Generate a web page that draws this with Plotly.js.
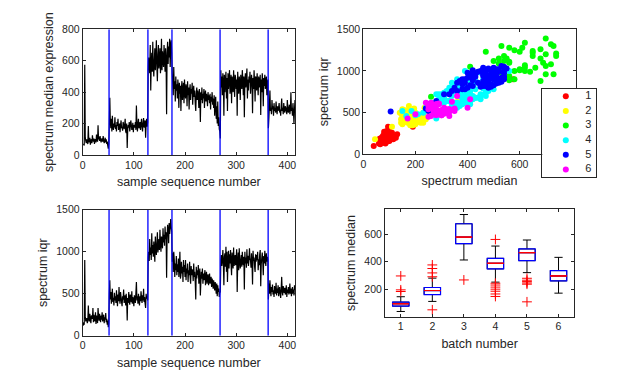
<!DOCTYPE html>
<html>
<head>
<meta charset="utf-8">
<script src="https://cdn.plot.ly/plotly-3.0.1.min.js"></script>
<style>
  html, body { margin: 0; padding: 0; background: #fff; }
  #graph { width: 636px; height: 382px; }
</style>
</head>
<body>
<div id="graph"></div>
<script>
//*****Data
// spectrum median per sample, one array per batch
var med1 = [65, 70, 60, 575, 110, 90, 75, 100, 85, 70,
  185, 80, 95, 110, 65, 90, 100, 75, 125, 95,
  85, 105, 70, 100, 90, 80, 130, 95, 85, 190,
  100, 115, 90, 120, 95, 80, 105, 100, 85, 120,
  95, 75, 90, 110, 80, 100, 70, 85, 60, 40, 75];
var med2 = [190, 365, 210, 170, 230, 150, 250, 180, 160, 200,
  175, 240, 165, 190, 150, 210, 185, 230, 160, 175,
  200, 145, 190, 220, 170, 180, 155, 210, 195, 165,
  185, 230, 150, 140, 200, 45, 160, 190, 175, 210,
  150, 180, 220, 195, 160, 170, 205, 145, 190, 185,
  175, 210, 160, 315, 190, 150, 200, 230, 170, 185,
  210, 160, 195, 230, 180, 150, 205, 235, 175, 190,
  220, 110, 200, 230, 180, 210];
var med3 = [540, 620, 560, 520, 700, 410, 580, 650, 530, 720,
  560, 500, 600, 680, 540, 620, 730, 560, 470, 640,
  700, 550, 600, 680, 520, 580, 740, 540, 660, 610,
  560, 700, 620, 530, 680, 600, 260, 650, 720, 580,
  690, 620, 740, 560, 700, 730, 650];
var med4 = [520, 450, 380, 560, 420, 470, 340, 500, 410, 450,
  360, 480, 420, 300, 460, 390, 440, 280, 430, 470,
  350, 410, 460, 330, 480, 400, 360, 450, 420, 310,
  470, 380, 430, 290, 410, 450, 350, 420, 390, 460,
  320, 400, 440, 370, 410, 330, 280, 390, 430, 350,
  410, 380, 300, 420, 370, 210, 400, 350, 430, 330,
  390, 360, 420, 300, 380, 410, 340, 390, 360, 310,
  400, 350, 380, 330, 390, 290, 370, 340, 400, 320,
  360, 300, 380, 250, 330, 370, 230, 310, 200, 340,
  185, 240, 165, 150];
var med5 = [105, 540, 430, 500, 380, 520, 460, 250, 510, 400,
  470, 530, 360, 490, 280, 520, 420, 480, 540, 390,
  460, 510, 330, 500, 470, 400, 540, 450, 370, 510,
  490, 420, 480, 250, 530, 440, 390, 500, 470, 350,
  510, 460, 420, 540, 480, 380, 500, 240, 470, 520,
  430, 490, 550, 360, 480, 410, 500, 460, 530, 390,
  450, 510, 470, 265, 490, 420, 540, 460, 340, 500,
  480, 410, 520, 450, 380, 500, 470, 430, 510, 255,
  480, 400, 520, 460, 310, 490, 440, 510, 420, 470,
  500, 380, 460, 480];
var med6 = [170, 240, 320, 410, 280, 300, 260, 350, 290, 310,
  250, 330, 280, 300, 270, 340, 290, 260, 310, 280,
  300, 330, 270, 290, 250, 310, 360, 280, 300, 260,
  330, 290, 270, 310, 300, 280, 260, 350, 290, 270,
  300, 320, 260, 290, 400, 280, 300, 250, 330, 270,
  200, 290, 350];

// spectrum iqr per sample
var iqr1 = [120, 160, 130, 900, 230, 170, 190, 210, 150, 180,
  360, 200, 170, 260, 190, 150, 240, 220, 200, 330,
  160, 250, 190, 170, 280, 140, 240, 210, 150, 330,
  230, 180, 260, 200, 160, 240, 190, 280, 170, 210,
  250, 150, 220, 190, 270, 160, 200, 130, 180, 100, 150];
var iqr2 = [480, 660, 430, 520, 380, 470, 560, 400, 450, 360,
  510, 420, 470, 390, 540, 430, 350, 490, 410, 580,
  440, 380, 520, 460, 400, 350, 470, 430, 550, 390,
  420, 480, 360, 500, 410, 180, 450, 390, 520, 430,
  370, 490, 440, 400, 530, 380, 460, 420, 350, 480,
  440, 390, 510, 640, 420, 470, 380, 500, 430, 360,
  470, 410, 530, 450, 390, 480, 420, 560, 400, 460,
  380, 330, 500, 440, 470, 420];
var iqr3 = [930, 1000, 890, 1150, 960, 1050, 900, 1220, 980, 1080,
  940, 1120, 1010, 880, 1180, 1040, 960, 1100, 1230, 990,
  1060, 1150, 1020, 1260, 1090, 1000, 1180, 1120, 1040, 1280,
  1110, 1200, 1070, 1300, 1150, 1230, 690, 1180, 1320, 1250,
  1100, 1340, 1210, 1280, 1390, 1300, 1240];
var iqr4 = [880, 980, 760, 1000, 900, 700, 860, 780, 950, 720,
  850, 760, 920, 700, 820, 1000, 680, 720, 880, 740,
  820, 640, 900, 760, 840, 700, 900, 660, 800, 740,
  860, 640, 780, 720, 880, 700, 620, 830, 720, 790,
  760, 650, 860, 700, 760, 640, 430, 820, 680, 780,
  720, 840, 620, 700, 800, 480, 640, 760, 680, 800,
  620, 740, 660, 720, 780, 600, 700, 760, 620, 690,
  730, 600, 680, 740, 620, 660, 700, 580, 680, 640,
  560, 660, 600, 540, 640, 580, 500, 620, 470, 600,
  520, 560, 460, 520];
var iqr5 = [515, 900, 960, 830, 900, 1020, 850, 600, 940, 980,
  820, 1060, 760, 1000, 640, 880, 1010, 800, 970, 860,
  1020, 850, 720, 990, 880, 800, 1050, 830, 880, 960,
  840, 930, 1030, 520, 870, 990, 780, 1040, 900, 800,
  890, 960, 820, 1000, 870, 840, 940, 550, 1000, 860,
  930, 810, 1030, 860, 950, 830, 900, 1040, 920, 900,
  810, 980, 870, 610, 1010, 890, 930, 820, 760, 970,
  880, 960, 900, 1000, 780, 910, 840, 970, 1020, 590,
  850, 920, 990, 880, 720, 950, 860, 1010, 900, 830,
  980, 880, 940, 900];
var iqr6 = [430, 620, 500, 660, 540, 470, 580, 520, 610, 490,
  540, 460, 590, 520, 500, 630, 480, 560, 510, 600,
  470, 540, 580, 500, 450, 560, 700, 520, 480, 590,
  540, 510, 570, 490, 530, 600, 460, 550, 510, 580,
  490, 540, 620, 500, 560, 470, 530, 580, 510, 550,
  480, 600, 540];

// batch boundaries (blue lines) in sample number
var batchEdges = [51.5, 127.5, 174.5, 268.5, 362.5];

var batchNames = ['1', '2', '3', '4', '5', '6'];
var batchColors = ['#ff0000', '#ffff00', '#00ff00', '#00ffff', '#0000ff', '#ff00ff'];

// box plot stats per batch
var boxX = [1, 2, 3, 4, 5, 6];
var boxQ1 = [77, 161, 530, 347, 407, 260];
var boxMed = [94, 190, 578, 388, 465, 296];
var boxQ3 = [106, 212, 675, 424, 492, 335];
var boxLo = [38, 111, 412, 251, 320, 171];
var boxHi = [145, 280, 742, 513, 557, 431];
var outX = [1, 1, 1, 2, 2, 2, 2, 2, 3, 4, 4, 4, 4, 4, 4, 4, 4, 5, 5, 5, 5, 5, 5];
var outY = [296, 195, 183, 376, 350, 318, 290, 50, 267, 561, 243, 230, 215, 200, 185, 165, 147, 279, 265, 255, 245, 236, 108];
//***** End of data

var medByBatch = [med1, med2, med3, med4, med5, med6];
var iqrByBatch = [iqr1, iqr2, iqr3, iqr4, iqr5, iqr6];
var medAll = [].concat.apply([], medByBatch);
var iqrAll = [].concat.apply([], iqrByBatch);
var sampleNo = medAll.map(function (v, i) { return i + 1; });

var ink = '#262626';
var font = 'Liberation Sans, Arial, sans-serif';

function edgeLines(top) {
  var xs = [], ys = [];
  batchEdges.forEach(function (b) { xs.push(b, b, null); ys.push(0, top, null); });
  return { x: xs, y: ys };
}

var data = [];

// top-left: median series
data.push({ x: sampleNo, y: medAll, type: 'scatter', mode: 'lines', xaxis: 'x', yaxis: 'y',
  line: { color: '#000', width: 1.2, simplify: false }, showlegend: false });
var e1 = edgeLines(800);
data.push({ x: e1.x, y: e1.y, type: 'scatter', mode: 'lines', xaxis: 'x', yaxis: 'y',
  line: { color: '#0000ff', width: 1.3 }, showlegend: false });

// top-right: scatter median vs iqr
for (var k = 0; k < 6; k++) {
  data.push({ x: medByBatch[k], y: iqrByBatch[k], type: 'scatter', mode: 'markers',
    xaxis: 'x2', yaxis: 'y2', name: batchNames[k], showlegend: false,
    marker: { color: batchColors[k], size: 6 } });
}

// legend box for the scatter (own small subplot, drawn over the scatter)
var legendKeyX = 0.44, legendLabelX = 0.86;
data.push({ x: boxX.map(function () { return legendKeyX; }), y: boxX, type: 'scatter', mode: 'markers',
  xaxis: 'x5', yaxis: 'y5', showlegend: false, cliponaxis: false,
  marker: { color: batchColors, size: 6 } });
data.push({ x: boxX.map(function () { return legendLabelX; }), y: boxX, type: 'scatter', mode: 'text',
  text: batchNames, textposition: 'middle center', xaxis: 'x5', yaxis: 'y5', showlegend: false,
  cliponaxis: false, textfont: { family: font, size: 11, color: ink } });

// bottom-left: iqr series
data.push({ x: sampleNo, y: iqrAll, type: 'scatter', mode: 'lines', xaxis: 'x3', yaxis: 'y3',
  line: { color: '#000', width: 1.2, simplify: false }, showlegend: false });
var e3 = edgeLines(1500);
data.push({ x: e3.x, y: e3.y, type: 'scatter', mode: 'lines', xaxis: 'x3', yaxis: 'y3',
  line: { color: '#0000ff', width: 1.3 }, showlegend: false });

// bottom-right: box plot (black whiskers, blue box, red median)
var boxBase = { type: 'box', x: boxX, xaxis: 'x4', yaxis: 'y4', width: 0.52,
  boxpoints: false, showlegend: false, fillcolor: 'rgba(0,0,0,0)' };
data.push(Object.assign({}, boxBase, { q1: boxQ1, median: boxMed, q3: boxQ3,
  lowerfence: boxLo, upperfence: boxHi, whiskerwidth: 0.5, line: { color: '#000', width: 1 } }));
data.push(Object.assign({}, boxBase, { q1: boxQ1, median: boxMed, q3: boxQ3,
  lowerfence: boxQ1, upperfence: boxQ3, whiskerwidth: 0, line: { color: '#0000ff', width: 1.2 } }));
data.push(Object.assign({}, boxBase, { q1: boxMed, median: boxMed, q3: boxMed,
  lowerfence: boxMed, upperfence: boxMed, whiskerwidth: 0, line: { color: '#ff0000', width: 1 } }));
data.push({ x: outX, y: outY, type: 'scatter', mode: 'markers', xaxis: 'x4', yaxis: 'y4',
  marker: { symbol: 'cross-thin-open', size: 7, color: '#ff0000', line: { color: '#ff0000', width: 1 } },
  showlegend: false });

var axis_layout = {
  showline: true, mirror: 'ticks', linecolor: ink, linewidth: 1,
  ticks: 'inside', ticklen: 3, tickcolor: ink, tickwidth: 1,
  showgrid: false, zeroline: false, automargin: false,
  tickfont: { family: font, size: 10.5, color: ink }
};
function ax(extra) { return Object.assign({}, axis_layout, extra); }
function ttl(t, gap) { return { text: t, standoff: gap, font: { family: font, size: 12.5, color: ink } }; }

var W = 636, H = 382;
function dx(a, b) { return [a / W, b / W]; }
function dy(top, bot) { return [1 - bot / H, 1 - top / H]; }

var layout = {
  width: W, height: H,
  margin: { l: 0, r: 0, t: 0, b: 0 },
  paper_bgcolor: '#fff', plot_bgcolor: '#fff',
  font: { family: font, color: ink },
  boxmode: 'overlay',
  showlegend: false,
  hovermode: false,
  xaxis: ax({ domain: dx(82.7, 295), range: [0, 415], tickvals: [0, 100, 200, 300, 400],
    anchor: 'y', title: ttl('sample sequence number', 7) }),
  yaxis: ax({ domain: dy(29.3, 155), range: [0, 800], tickvals: [0, 200, 400, 600, 800],
    anchor: 'x', title: ttl('spectrum median expression', 5) }),
  xaxis2: ax({ domain: dx(363.3, 575.7), range: [0, 815], tickvals: [0, 200, 400, 600],
    anchor: 'y2', title: ttl('spectrum median', 7) }),
  yaxis2: ax({ domain: dy(29.3, 154.3), range: [0, 1500], tickvals: [0, 500, 1000, 1500],
    anchor: 'x2', title: ttl('spectrum iqr', 5) }),
  xaxis3: ax({ domain: dx(82.7, 295), range: [0, 415], tickvals: [0, 100, 200, 300, 400],
    anchor: 'y3', title: ttl('sample sequence number', 7) }),
  yaxis3: ax({ domain: dy(209.7, 335.7), range: [0, 1500], tickvals: [0, 500, 1000, 1500],
    anchor: 'x3', title: ttl('spectrum iqr', 5) }),
  xaxis4: ax({ domain: dx(385, 574.3), range: [0.5, 6.5], tickvals: boxX,
    anchor: 'y4', title: ttl('batch number', 7) }),
  yaxis4: ax({ domain: dy(209.3, 316.7), range: [0, 780], tickvals: [200, 400, 600],
    anchor: 'x4', title: ttl('spectrum median', 5) }),
  xaxis5: { domain: dx(542.3, 595.7), range: [0, 1], anchor: 'y5', showline: true, mirror: 'all',
    linecolor: ink, linewidth: 1, ticks: '', showticklabels: false, showgrid: false, zeroline: false },
  yaxis5: { domain: dy(89, 176.7), range: [6.5, 0.5], anchor: 'x5', showline: true, mirror: 'all',
    linecolor: ink, linewidth: 1, ticks: '', showticklabels: false, showgrid: false, zeroline: false }
};

Plotly.newPlot('graph', data, layout, { displayModeBar: false, staticPlot: true });
</script>
</body>
</html>
